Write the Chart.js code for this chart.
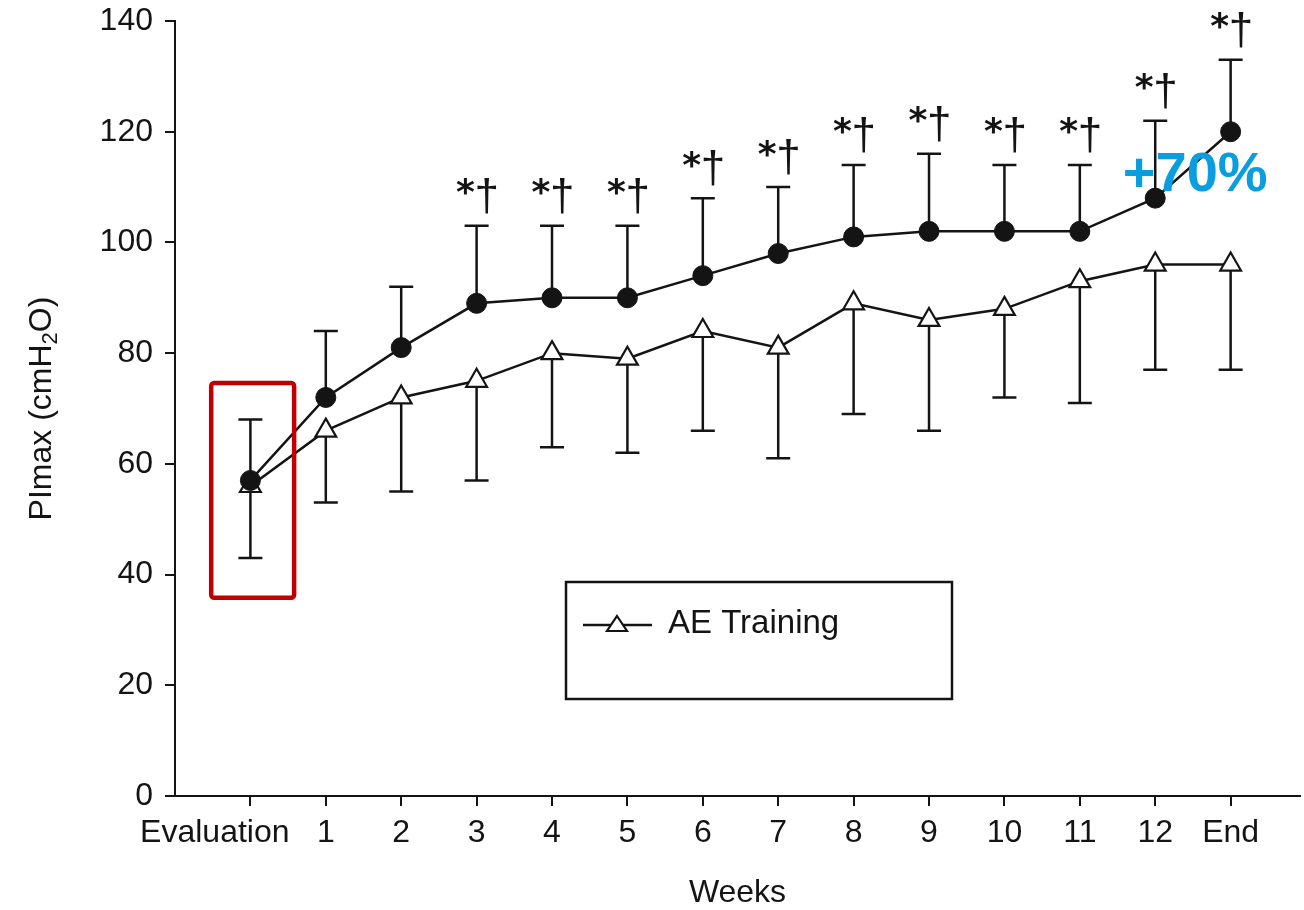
<!DOCTYPE html>
<html>
<head>
<meta charset="utf-8">
<title>PImax by week</title>
<script src="https://cdn.jsdelivr.net/npm/chart.js@4.4.1/dist/chart.umd.min.js"></script>
<style>
  html, body { margin: 0; padding: 0; background: #fff; }
  #wrap { width: 1304px; height: 910px; }
</style>
</head>
<body>
<div id="wrap"><canvas id="pimaxChart"></canvas></div>
<script>
// Week labels and values (cmH2O)
const weekLabels = ['Evaluation', '1', '2', '3', '4', '5', '6', '7', '8', '9', '10', '11', '12', 'End'];
const rmtMean  = [57, 72, 81, 89, 90, 90, 94, 98, 101, 102, 102, 102, 108, 120];
const rmtUpper = [68, 84, 92, 103, 103, 103, 108, 110, 114, 116, 114, 114, 122, 133];
const aeMean   = [56, 66, 72, 75, 80, 79, 84, 81, 89, 86, 88, 93, 96, 96];
const aeLower  = [43, 53, 55, 57, 63, 62, 66, 61, 69, 66, 72, 71, 77, 77];
const sigMarks = [false, false, false, true, true, true, true, true, true, true, true, true, true, true];
const yTicks   = [0, 20, 40, 60, 80, 100, 120, 140];

const INK = '#141414';
const FONT = '"Liberation Sans", Arial, sans-serif';

// draw a glyph so that its ink box is centred on (cx, cy)
function glyphAt(ctx, ch, font, cx, cy) {
  ctx.font = font;
  const m = ctx.measureText(ch);
  const w = m.actualBoundingBoxRight + m.actualBoundingBoxLeft;
  const h = m.actualBoundingBoxAscent + m.actualBoundingBoxDescent;
  ctx.fillText(ch, cx - w / 2 + m.actualBoundingBoxLeft, cy - h / 2 + m.actualBoundingBoxAscent);
}

// vertical SD bars: up for the trained group, down for AE
const errorBars = {
  id: 'errorBars',
  beforeDatasetsDraw(chart) {
    const { ctx, scales: { x, y } } = chart;
    ctx.save();
    ctx.strokeStyle = INK;
    ctx.lineWidth = 2.5;
    const draw = (vals, ends) => vals.forEach((v, i) => {
      const px = x.getPixelForValue(i);
      const p0 = y.getPixelForValue(v), p1 = y.getPixelForValue(ends[i]);
      ctx.beginPath();
      ctx.moveTo(px, p0); ctx.lineTo(px, p1);
      ctx.moveTo(px - 12, p1); ctx.lineTo(px + 12, p1);
      ctx.stroke();
    });
    draw(rmtMean, rmtUpper);
    draw(aeMean, aeLower);
    ctx.restore();
  }
};

// significance marks, red box, +70% note, legend and axis titles
const extras = {
  id: 'extras',
  afterDatasetsDraw(chart) {
    const { ctx, chartArea: area, scales: { x, y } } = chart;
    ctx.save();

    // *† over the upper bars
    ctx.fillStyle = INK;
    ctx.textAlign = 'left';
    ctx.textBaseline = 'alphabetic';
    sigMarks.forEach((on, i) => {
      if (!on) return;
      const px = x.getPixelForValue(i);
      const py = y.getPixelForValue(rmtUpper[i]);
      glyphAt(ctx, '*', 'bold 36px "DejaVu Sans"', px - 11, py - 39);
      glyphAt(ctx, '†', '44px ' + FONT, px + 10, py - 30);
    });

    // red box round the baseline point
    const bx0 = x.getPixelForValue(-0.52), bx1 = x.getPixelForValue(0.58);
    const by0 = y.getPixelForValue(74.6), by1 = y.getPixelForValue(35.8);
    ctx.strokeStyle = '#c00000';
    ctx.lineWidth = 4.5;
    ctx.beginPath();
    ctx.roundRect(bx0, by0, bx1 - bx0, by1 - by0, 3);
    ctx.stroke();

    // +70% note near the last point
    ctx.fillStyle = '#0a9de0';
    ctx.font = 'bold 56px ' + FONT;
    ctx.textAlign = 'center';
    ctx.textBaseline = 'middle';
    ctx.fillText('+70%', x.getPixelForValue(12.53), y.getPixelForValue(112));

    // legend box
    const lx = area.left + 391, ly = area.top + 561;
    ctx.strokeStyle = INK;
    ctx.lineWidth = 2.5;
    ctx.strokeRect(lx, ly, 386, 117);
    ctx.beginPath();
    ctx.moveTo(lx + 17, ly + 43); ctx.lineTo(lx + 86, ly + 43);
    ctx.stroke();
    ctx.fillStyle = '#fff';
    ctx.lineWidth = 2.2;
    ctx.beginPath();
    ctx.moveTo(lx + 51, ly + 34);
    ctx.lineTo(lx + 61, ly + 49);
    ctx.lineTo(lx + 41, ly + 49);
    ctx.closePath();
    ctx.fill(); ctx.stroke();
    ctx.fillStyle = INK;
    ctx.font = '33px ' + FONT;
    ctx.textAlign = 'left';
    ctx.textBaseline = 'middle';
    ctx.fillText(chart.data.datasets[1].label, lx + 102, ly + 42);

    // x title
    ctx.font = '32px ' + FONT;
    ctx.textAlign = 'center';
    ctx.fillText('Weeks', (area.left + area.right) / 2, 893);

    // y title with subscript 2
    ctx.translate(42, (area.top + area.bottom) / 2);
    ctx.rotate(-Math.PI / 2);
    const partA = 'PImax (cmH', partB = '2', partC = 'O)';
    ctx.font = '32px ' + FONT;
    const wA = ctx.measureText(partA).width, wC = ctx.measureText(partC).width;
    ctx.font = '22px ' + FONT;
    const wB = ctx.measureText(partB).width;
    let cx = -(wA + wB + wC) / 2;
    ctx.textAlign = 'left';
    ctx.font = '32px ' + FONT;
    ctx.fillText(partA, cx, 0); cx += wA;
    ctx.font = '22px ' + FONT;
    ctx.fillText(partB, cx, 9); cx += wB;
    ctx.font = '32px ' + FONT;
    ctx.fillText(partC, cx, 0);

    ctx.restore();
  }
};

new Chart(document.getElementById('pimaxChart'), {
  type: 'line',
  data: {
    datasets: [
      {
        label: 'Trained',
        data: rmtMean.map((v, i) => ({ x: i, y: v })),
        borderColor: INK, borderWidth: 2.5,
        pointStyle: 'circle', pointRadius: 10,
        pointBackgroundColor: INK, pointBorderColor: INK, pointBorderWidth: 1,
        tension: 0
      },
      {
        label: 'AE Training',
        data: aeMean.map((v, i) => ({ x: i, y: v })),
        borderColor: INK, borderWidth: 2.5,
        pointStyle: 'triangle', pointRadius: 12,
        pointBackgroundColor: '#fff', pointBorderColor: INK, pointBorderWidth: 2.2,
        tension: 0
      }
    ]
  },
  plugins: [errorBars, extras],
  options: {
    responsive: true,
    maintainAspectRatio: false,
    animation: false,
    events: [],
    layout: { autoPadding: false, padding: { left: 60, right: 4, top: 21, bottom: 0 } },
    plugins: { legend: { display: false }, tooltip: { enabled: false } },
    scales: {
      x: {
        type: 'linear',
        min: -1, max: 13.92,
        afterFit: s => { s.height = 114; s.paddingLeft = 0; s.paddingRight = 0; },
        afterBuildTicks: s => { s.ticks = weekLabels.map((_, i) => ({ value: i })); },
        ticks: {
          autoSkip: false, maxRotation: 0,
          color: INK, font: { family: FONT, size: 32 }, padding: 8,
          // the long first label sits left of its tick
          callback: v => v === 0 ? weekLabels[0] + '        ' : weekLabels[v]
        },
        grid: { drawOnChartArea: false, drawTicks: true, tickLength: 10, color: INK, lineWidth: 2 },
        border: { color: INK, width: 2 }
      },
      y: {
        min: 0, max: 140,
        afterFit: s => { s.width = 115; s.paddingTop = 0; s.paddingBottom = 0; },
        afterBuildTicks: s => { s.ticks = yTicks.map(v => ({ value: v })); },
        ticks: { color: INK, font: { family: FONT, size: 32 }, padding: 12 },
        grid: { drawOnChartArea: false, drawTicks: true, tickLength: 10, color: INK, lineWidth: 2 },
        border: { color: INK, width: 2 }
      }
    }
  }
});
</script>
</body>
</html>
